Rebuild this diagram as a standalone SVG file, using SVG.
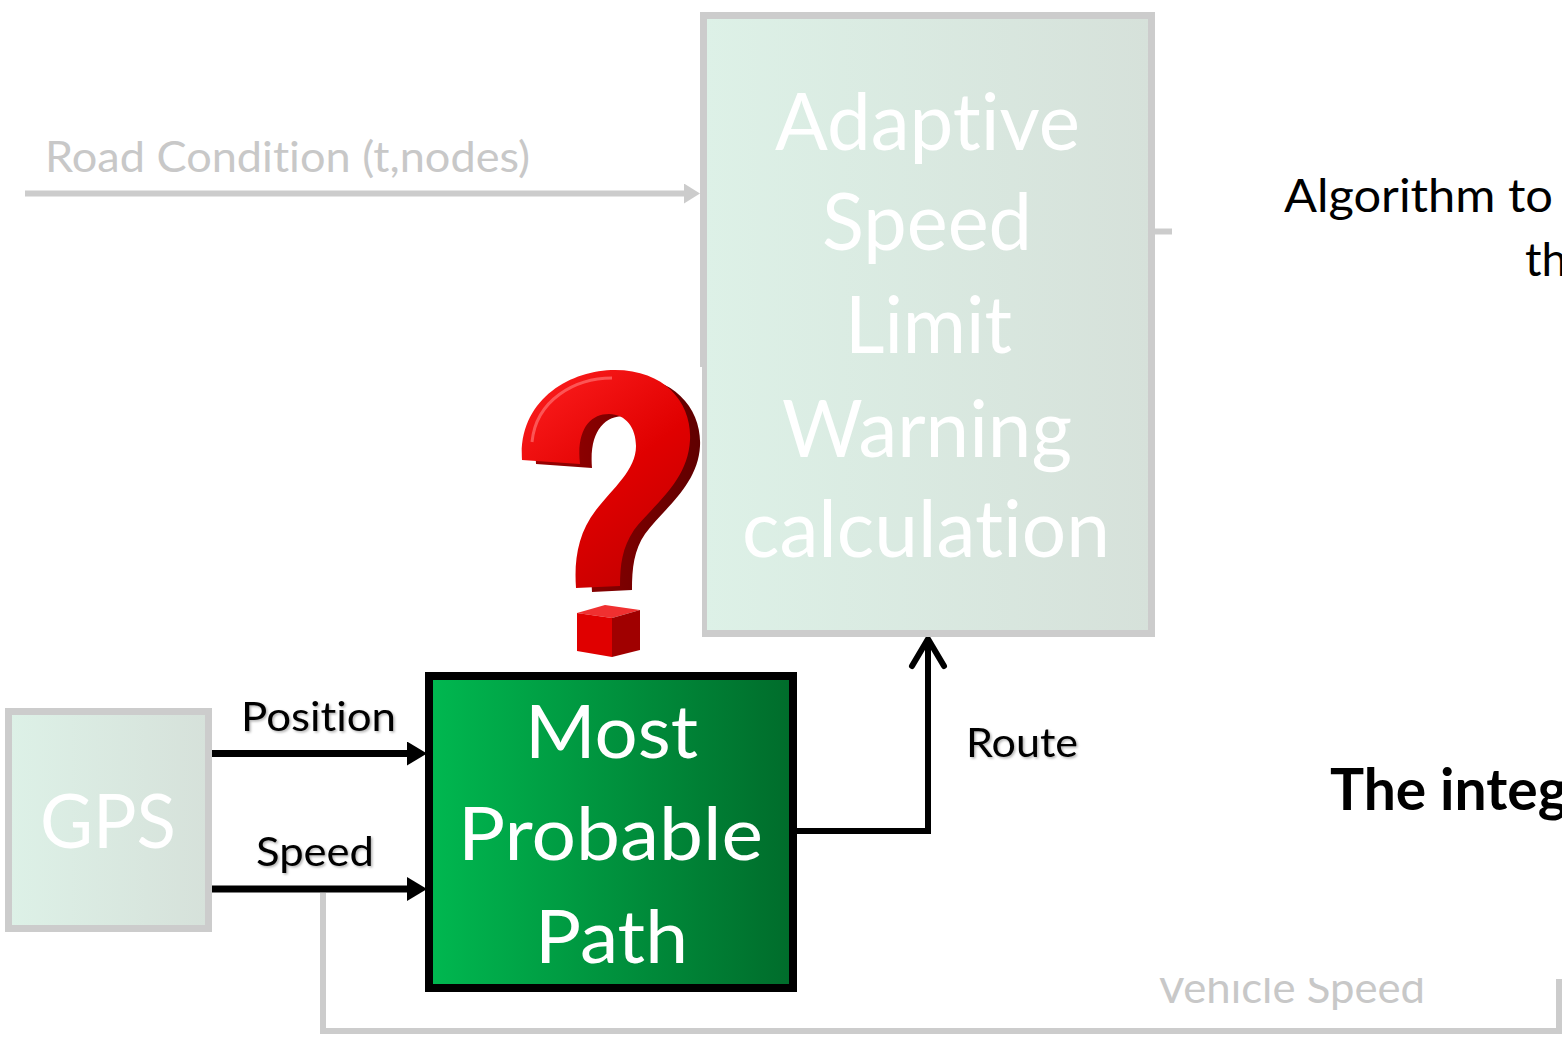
<svg xmlns="http://www.w3.org/2000/svg" width="1562" height="1037" viewBox="0 0 1562 1037">
  <style>
    .txt { font-family: Lato, "Open Sans", "Liberation Sans", sans-serif; font-variant-ligatures: none; font-feature-settings: "liga" 0, "clig" 0; }
    .pale { fill: #ffffff; }
    .muted { fill: #c8c8c8; }
    .ink { fill: #000000; }
    .grayBox { stroke: #cccccc; stroke-width: 7; fill: url(#mint); }
    .grayWire { stroke: #cccccc; stroke-width: 6; fill: none; }
    .blackWire { stroke: #000000; stroke-width: 7; fill: none; }
  </style>
  <defs>
    <linearGradient id="mint" x1="0" y1="0" x2="1" y2="0">
      <stop offset="0" stop-color="#ddf1e7"/>
      <stop offset="1" stop-color="#d6e1da"/>
    </linearGradient>
    <linearGradient id="green" x1="0" y1="0" x2="1" y2="0">
      <stop offset="0" stop-color="#00b850"/>
      <stop offset="1" stop-color="#006c2b"/>
    </linearGradient>
    <linearGradient id="qFront" x1="0" y1="0" x2="0.6" y2="1">
      <stop offset="0" stop-color="#ff2020"/>
      <stop offset="0.6" stop-color="#e00000"/>
      <stop offset="1" stop-color="#c80000"/>
    </linearGradient>
    <linearGradient id="qSide" x1="0" y1="0" x2="1" y2="0">
      <stop offset="0" stop-color="#9a0000"/>
      <stop offset="1" stop-color="#600000"/>
    </linearGradient>
    <filter id="soft" x="-10%" y="-20%" width="130%" height="150%">
      <feDropShadow dx="1.5" dy="1.5" stdDeviation="1" flood-color="#000" flood-opacity="0.3"/>
    </filter>
    <clipPath id="lowerCut">
      <rect x="1100" y="978" width="462" height="59"/>
    </clipPath>
    <marker id="grayTip" markerUnits="userSpaceOnUse" viewBox="0 0 16 20" markerWidth="16" markerHeight="20" refX="0" refY="10" orient="auto">
      <path d="M0,0 L16,10 L0,20 Z" fill="#cccccc"/>
    </marker>
    <marker id="blackTip" markerUnits="userSpaceOnUse" viewBox="0 0 20 24" markerWidth="20" markerHeight="24" refX="0" refY="12" orient="auto">
      <path d="M0,0 L20,12 L0,24 Z" fill="#000000"/>
    </marker>
  </defs>

  <rect width="1562" height="1037" fill="#ffffff"/>

  <!-- connectors -->
  <g id="connectors">
    <line class="grayWire" x1="25" y1="193.5" x2="684" y2="193.5" marker-end="url(#grayTip)"/>
    <line class="grayWire" x1="1152" y1="231.5" x2="1172" y2="231.5"/>
    <path class="grayWire" d="M323,893 V1031 H1559 V979"/>
    <line class="blackWire" x1="212" y1="753.5" x2="407" y2="753.5" marker-end="url(#blackTip)"/>
    <line class="blackWire" x1="212" y1="889" x2="407" y2="889" marker-end="url(#blackTip)"/>
    <path d="M795,831 H928 V641" stroke="#000" stroke-width="6" fill="none"/>
    <path d="M912,666 L928,639 L944,666" stroke="#000" stroke-width="6" fill="none" stroke-linecap="round" stroke-linejoin="round"/>
    <text class="txt muted" x="45" y="172" font-size="42" textLength="485" lengthAdjust="spacingAndGlyphs">Road Condition (t,nodes)</text>
    <text class="txt ink" x="241" y="731" font-size="40" textLength="155" lengthAdjust="spacingAndGlyphs" filter="url(#soft)">Position</text>
    <text class="txt ink" x="256" y="866" font-size="40" textLength="118" lengthAdjust="spacingAndGlyphs" filter="url(#soft)">Speed</text>
    <text class="txt ink" x="966" y="757" font-size="40" textLength="112" lengthAdjust="spacingAndGlyphs" filter="url(#soft)">Route</text>
    <g clip-path="url(#lowerCut)">
      <text class="txt muted" x="1157" y="1003" font-size="42" textLength="268" lengthAdjust="spacingAndGlyphs">Vehicle Speed</text>
    </g>
  </g>

  <!-- adaptive speed limit block -->
  <g id="asl">
    <rect class="grayBox" x="703.5" y="15.5" width="448" height="618"/>
    <text class="txt pale" x="775" y="150" font-size="80" textLength="305" lengthAdjust="spacingAndGlyphs">Adaptive</text>
    <text class="txt pale" x="822" y="250" font-size="80" textLength="210" lengthAdjust="spacingAndGlyphs">Speed</text>
    <text class="txt pale" x="845" y="353" font-size="80" textLength="167" lengthAdjust="spacingAndGlyphs">Limit</text>
    <text class="txt pale" x="782" y="457" font-size="80" textLength="290" lengthAdjust="spacingAndGlyphs">Warning</text>
    <text class="txt pale" x="742" y="557" font-size="80" textLength="368" lengthAdjust="spacingAndGlyphs">calculation</text>
  </g>

  <!-- question mark picture -->
  <g id="question">
    <rect x="500" y="367" width="202" height="296" fill="#ffffff"/>
    <path d="M536,464 C532,404 580,376 625,376 C675,376 702,410 700,446 C698,486 662,510 645,534 C634,550 632,568 632,590 L592,592 C590,564 594,540 612,516 C629,494 654,474 654,449 C654,429 642,416 624,416 C604,416 589,432 592,468 Z" fill="url(#qSide)"/>
    <path d="M522,460 C518,400 570,370 615,370 C666,370 692,404 690,440 C688,482 652,506 634,530 C622,548 620,565 620,586 L576,588 C574,560 578,533 596,510 C613,488 636,470 636,446 C636,428 626,414 609,414 C590,414 576,430 580,464 Z" fill="url(#qFront)"/>
    <path d="M532,442 C536,400 575,378 612,378" stroke="#ff7070" stroke-width="3" fill="none" opacity="0.7"/>
    <polygon points="577,613 605,605 640,610 612,618" fill="#f03030"/>
    <polygon points="577,613 612,618 612,657 577,651" fill="#e00000"/>
    <polygon points="612,618 640,610 640,650 612,657" fill="#a00000"/>
  </g>

  <!-- GPS block -->
  <g id="gps">
    <rect class="grayBox" x="8.5" y="711.5" width="200" height="217"/>
    <text class="txt pale" x="40" y="848" font-size="76" textLength="136" lengthAdjust="spacingAndGlyphs">GPS</text>
  </g>

  <!-- most probable path block -->
  <g id="mpp">
    <rect x="429" y="676" width="364" height="312" fill="url(#green)" stroke="#000000" stroke-width="8"/>
    <text class="txt pale" x="525" y="758" font-size="74" textLength="173" lengthAdjust="spacingAndGlyphs">Most</text>
    <text class="txt pale" x="458" y="860" font-size="74" textLength="305" lengthAdjust="spacingAndGlyphs">Probable</text>
    <text class="txt pale" x="535" y="963" font-size="74" textLength="153" lengthAdjust="spacingAndGlyphs">Path</text>
  </g>

  <!-- side notes -->
  <g id="notes">
    <text class="txt ink" x="1284" y="212" font-size="46" textLength="269" lengthAdjust="spacingAndGlyphs">Algorithm to</text>
    <text class="txt ink" x="1525" y="276" font-size="46">th</text>
    <text class="txt ink" x="1330" y="810" font-size="57" font-weight="bold">The integ</text>
  </g>
</svg>
